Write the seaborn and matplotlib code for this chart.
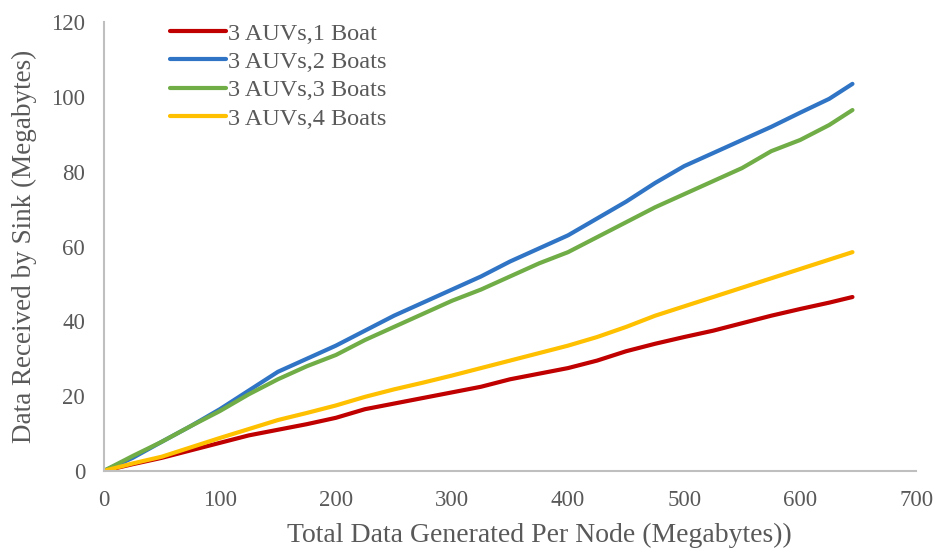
import numpy as np
import pandas as pd
import matplotlib
matplotlib.use('Agg')
import matplotlib.pyplot as plt
import seaborn as sns

# x positions (Megabytes generated per node)
x_vals = [0, 25, 50, 75, 100, 125, 150, 175, 200, 225, 250, 275, 300, 325,
          350, 375, 400, 425, 450, 475, 500, 525, 550, 575, 600, 625, 645]

boat1 = [0, 1.8, 3.5, 5.5, 7.5, 9.5, 11, 12.5, 14.2, 16.5, 18, 19.5, 21, 22.5,
         24.5, 26, 27.5, 29.5, 32, 34, 35.8, 37.5, 39.5, 41.5, 43.3, 45, 46.5]
boat2 = [0, 3.5, 7.8, 12, 16.5, 21.5, 26.5, 30, 33.5, 37.5, 41.5, 45, 48.5, 52,
         56, 59.5, 63, 67.5, 72, 77, 81.5, 85, 88.5, 92, 95.8, 99.5, 103.5]
boat3 = [0, 4, 7.8, 12, 16, 20.5, 24.5, 28, 31, 35, 38.5, 42, 45.5, 48.5,
         52, 55.5, 58.5, 62.5, 66.5, 70.5, 74, 77.5, 81, 85.5, 88.5, 92.5, 96.5]
boat4 = [0, 2, 3.8, 6.3, 8.8, 11.2, 13.6, 15.5, 17.5, 19.8, 21.8, 23.6, 25.5, 27.5,
         29.5, 31.5, 33.5, 35.8, 38.5, 41.5, 44, 46.5, 49, 51.5, 54, 56.5, 58.5]

labels = ['3 AUVs,1 Boat', '3 AUVs,2 Boats', '3 AUVs,3 Boats', '3 AUVs,4 Boats']
colors = ['#c00000', '#2f74c5', '#70ad47', '#ffc000']

rows = []
for lab, ys in zip(labels, [boat1, boat2, boat3, boat4]):
    for xv, yv in zip(x_vals, ys):
        rows.append({'x': xv, 'y': yv, 'series': lab})
df = pd.DataFrame(rows)

sns.set_style('white')
plt.rcParams['font.family'] = ['Liberation Serif', 'DejaVu Serif']
grey = '#595959'

fig = plt.figure(figsize=(9.35, 5.54), dpi=100)
ax = fig.add_axes([0.111, 0.150, 0.869, 0.810])

sns.lineplot(data=df, x='x', y='y', hue='series', palette=colors,
             linewidth=3.0, ax=ax)

ax.set_xlim(0, 700)
ax.set_ylim(0, 120)
ax.set_xticks(range(0, 701, 100))
ax.set_yticks(range(0, 121, 20))
ax.set_xlabel('Total Data Generated Per Node (Megabytes))', fontsize=20, color=grey, labelpad=10)
ax.xaxis.set_label_coords(0.536, -0.115)
ax.set_ylabel('Data Received by Sink (Megabytes)', fontsize=19.5, color=grey, labelpad=10)

for s in ['top', 'right']:
    ax.spines[s].set_visible(False)
for s in ['left', 'bottom']:
    ax.spines[s].set_color('#bfbfbf')
    ax.spines[s].set_linewidth(1.5)
ax.tick_params(direction='inout', length=9, width=1.5, color='#bfbfbf',
               labelsize=16.5, labelcolor=grey, pad=9)

leg = ax.legend(loc='upper left', bbox_to_anchor=(0.081, 0.999), frameon=False,
                fontsize=17.5, handlelength=2.3, handletextpad=0.12,
                labelspacing=0.26, borderpad=0, borderaxespad=0)
for t in leg.get_texts():
    t.set_color(grey)

fig.savefig('out.png', dpi=100)
